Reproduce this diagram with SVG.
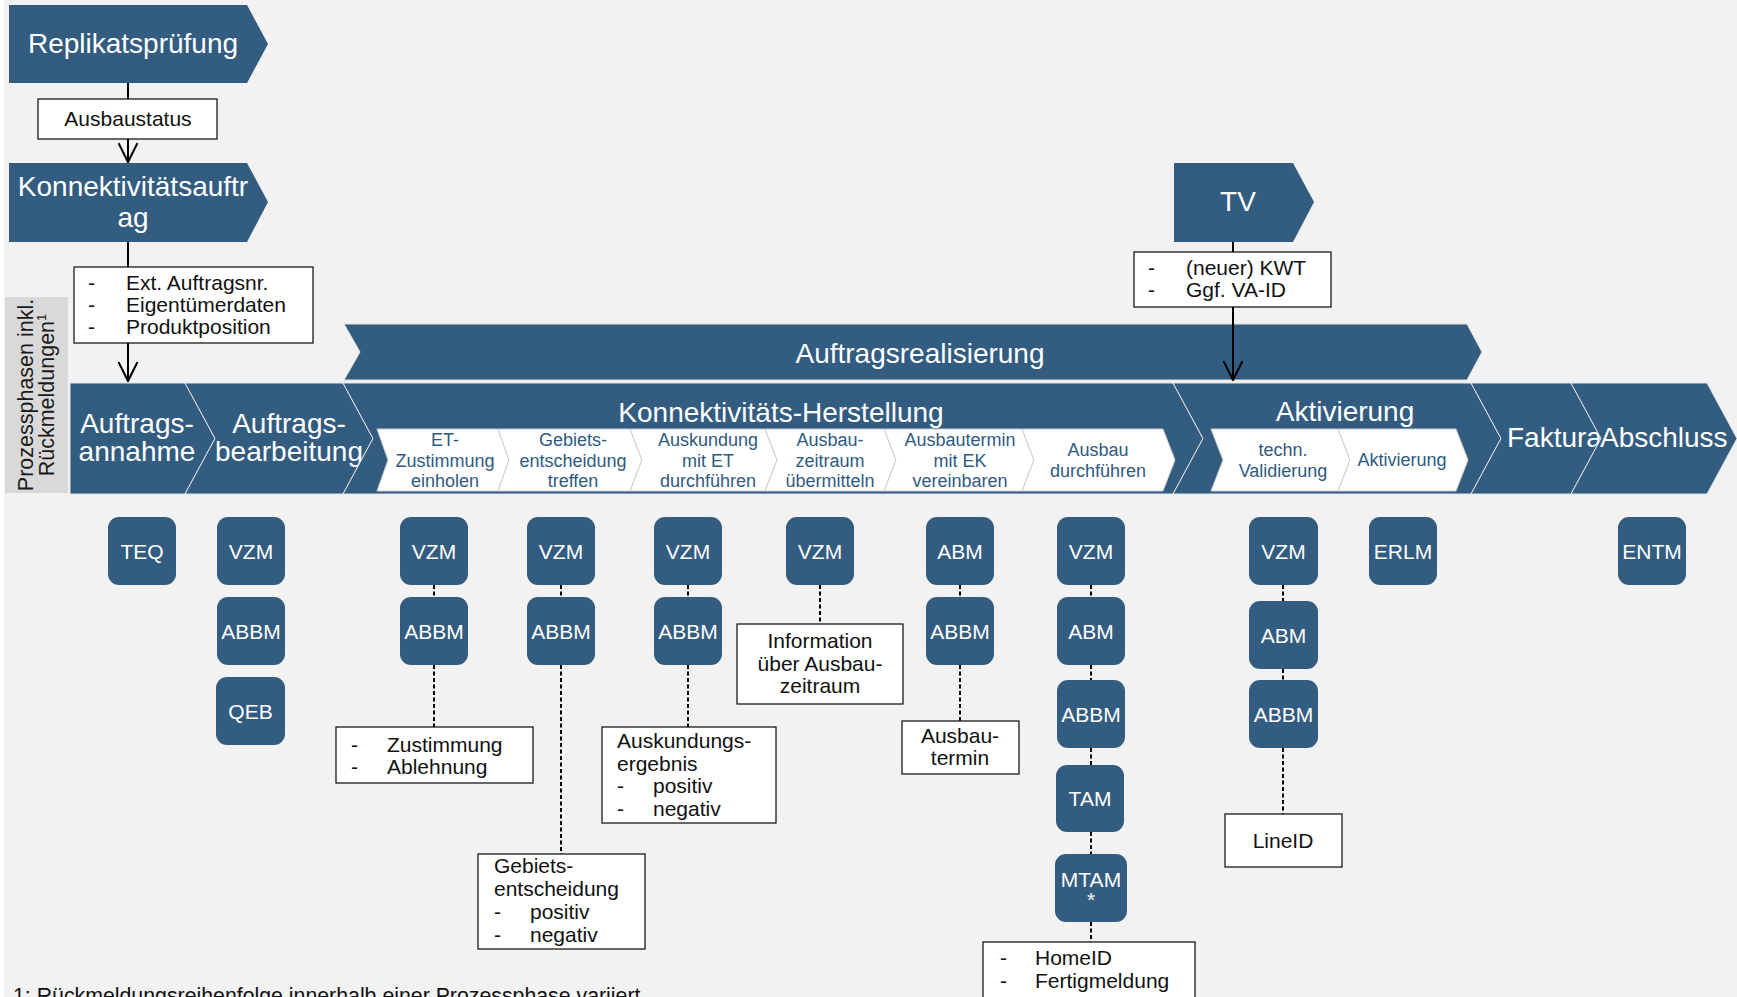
<svg xmlns="http://www.w3.org/2000/svg" width="1737" height="997" viewBox="0 0 1737 997">
<style>
text{font-family:"Liberation Sans",Arial,sans-serif}
.shape{fill:#325c80}
.seg{fill:#325c80;stroke:#e3e3e3;stroke-width:1}
.sub{fill:#ffffff;stroke:#cfcfcf;stroke-width:1}
.big{font-size:28px;fill:#ffffff}
.subt{font-size:18px;fill:#2f5a82;text-anchor:middle}
.node{fill:#325c80}
.nt{font-size:21px;fill:#ffffff;text-anchor:middle}
.box{fill:#ffffff;stroke:#1a1a1a;stroke-width:1.3}
.bt{font-size:21px;fill:#111111}
.c{text-anchor:middle}
.conn{stroke:#000;stroke-width:2;fill:none}
.dash{stroke:#000;stroke-width:2;fill:none;stroke-dasharray:4 2.5}
</style>
<defs>
<marker id="arr" viewBox="0 0 20 20" refX="19" refY="10" markerWidth="21" markerHeight="21" markerUnits="userSpaceOnUse" orient="auto">
<path d="M1,1 L19,10 L1,19" fill="none" stroke="#000" stroke-width="2"/>
</marker>
</defs>
<rect x="0" y="0" width="1737" height="997" fill="#ffffff"/>
<rect x="4" y="0" width="1733" height="997" fill="#f2f2f2"/>

<g id="label-prozessphasen">
<rect x="5" y="297" width="63" height="196" fill="#d9d9d9"/>
<text transform="translate(33,395) rotate(-90)" text-anchor="middle" font-size="21.5" fill="#1a1a1a">Prozessphasen inkl.</text>
<text transform="translate(54,395) rotate(-90)" text-anchor="middle" font-size="21.5" fill="#1a1a1a">Rückmeldungen<tspan font-size="13" dy="-8">1</tspan></text>
</g>

<g id="replikatspruefung">
<polygon class="shape" points="9,5 247,5 268,44 247,83 9,83"/>
<text class="big c" x="133" y="53">Replikatsprüfung</text>
</g>
<g id="ausbaustatus">
<rect class="box" x="38" y="99" width="179" height="40"/>
<text class="bt c" x="128" y="126">Ausbaustatus</text>
</g>
<g id="konnektivitaetsauftrag">
<polygon class="shape" points="9,163 247,163 268,202 247,242 9,242"/>
<text class="big c" x="133" y="196">Konnektivitätsauftr</text>
<text class="big c" x="133" y="227">ag</text>
</g>
<g id="box-ext">
<rect class="box" x="74" y="267" width="239" height="76"/>
<text class="bt" x="88" y="290">-</text><text class="bt" x="126" y="290">Ext. Auftragsnr.</text>
<text class="bt" x="88" y="312">-</text><text class="bt" x="126" y="312">Eigentümerdaten</text>
<text class="bt" x="88" y="334">-</text><text class="bt" x="126" y="334">Produktposition</text>
</g>
<g id="tv">
<polygon class="shape" points="1174,163 1293,163 1314,202 1293,242 1174,242"/>
<text class="big c" x="1238" y="211">TV</text>
</g>
<g id="box-kwt">
<rect class="box" x="1134" y="252" width="197" height="55"/>
<text class="bt" x="1148" y="275">-</text><text class="bt" x="1186" y="275">(neuer) KWT</text>
<text class="bt" x="1148" y="297">-</text><text class="bt" x="1186" y="297">Ggf. VA-ID</text>
</g>

<g id="auftragsrealisierung">
<polygon class="seg" points="344,324 1467,324 1482,352 1467,380 344,380 360,352"/>
<text class="big c" x="920" y="363">Auftragsrealisierung</text>
</g>

<g id="phase-auftragsannahme">
<polygon class="seg" points="70,383 185,383 215,438.5 185,494 70,494"/>
<text class="big c" x="137" y="433">Auftrags-</text>
<text class="big c" x="137" y="461">annahme</text>
</g>
<g id="phase-auftragsbearbeitung">
<polygon class="seg" points="185,383 343,383 373,438.5 343,494 185,494 215,438.5"/>
<text class="big c" x="289" y="433">Auftrags-</text>
<text class="big c" x="289" y="461">bearbeitung</text>
</g>
<g id="phase-konnektivitaet">
<polygon class="seg" points="343,383 1173,383 1203,438.5 1173,494 343,494 373,438.5"/>
<text class="big c" x="781" y="422">Konnektivitäts-Herstellung</text>
</g>
<g id="phase-aktivierung">
<polygon class="seg" points="1173,383 1471,383 1501,438.5 1471,494 1173,494 1203,438.5"/>
<text class="big c" x="1345" y="421">Aktivierung</text>
</g>
<g id="phase-faktura">
<polygon class="seg" points="1471,383 1571,383 1601,438.5 1571,494 1471,494 1501,438.5"/>
<text class="big" x="1507" y="447">Faktura</text>
</g>
<g id="phase-abschluss">
<polygon class="seg" points="1571,383 1707,383 1737,438.5 1707,494 1571,494 1601,438.5"/>
<text class="big" x="1600" y="447">Abschluss</text>
</g>

<g id="step-et">
<polygon class="sub" points="377,429 498,429 509,460 498,491 377,491 388,460"/>
<text class="subt" x="445" y="446">ET-</text><text class="subt" x="445" y="466.5">Zustimmung</text><text class="subt" x="445" y="487">einholen</text>
</g>
<g id="step-gebiet">
<polygon class="sub" points="498,429 630,429 642,460 630,491 498,491 509,460"/>
<text class="subt" x="573" y="446">Gebiets-</text><text class="subt" x="573" y="466.5">entscheidung</text><text class="subt" x="573" y="487">treffen</text>
</g>
<g id="step-auskundung">
<polygon class="sub" points="630,429 765,429 777,460 765,491 630,491 642,460"/>
<text class="subt" x="708" y="446">Auskundung</text><text class="subt" x="708" y="466.5">mit ET</text><text class="subt" x="708" y="487">durchführen</text>
</g>
<g id="step-zeitraum">
<polygon class="sub" points="765,429 884,429 896,460 884,491 765,491 777,460"/>
<text class="subt" x="830" y="446">Ausbau-</text><text class="subt" x="830" y="466.5">zeitraum</text><text class="subt" x="830" y="487">übermitteln</text>
</g>
<g id="step-termin">
<polygon class="sub" points="884,429 1022,429 1034,460 1022,491 884,491 896,460"/>
<text class="subt" x="960" y="446">Ausbautermin</text><text class="subt" x="960" y="466.5">mit EK</text><text class="subt" x="960" y="487">vereinbaren</text>
</g>
<g id="step-ausbau">
<polygon class="sub" points="1022,429 1163,429 1175,460 1163,491 1022,491 1034,460"/>
<text class="subt" x="1098" y="456">Ausbau</text><text class="subt" x="1098" y="477">durchführen</text>
</g>
<g id="step-validierung">
<polygon class="sub" points="1211,429 1338,429 1350,460 1338,491 1211,491 1223,460"/>
<text class="subt" x="1283" y="456">techn.</text><text class="subt" x="1283" y="477">Validierung</text>
</g>
<g id="step-aktivierung">
<polygon class="sub" points="1338,429 1456,429 1468,460 1456,491 1338,491 1350,460"/>
<text class="subt" x="1402" y="466">Aktivierung</text>
</g>

<g id="connectors">
<line class="conn" x1="128" y1="83" x2="128" y2="99"/>
<line class="conn" x1="128" y1="139" x2="128" y2="162" marker-end="url(#arr)"/>
<line class="conn" x1="128" y1="242" x2="128" y2="267"/>
<line class="conn" x1="128" y1="343" x2="128" y2="381" marker-end="url(#arr)"/>
<line class="conn" x1="1233" y1="242" x2="1233" y2="252"/>
<line class="conn" x1="1233" y1="307" x2="1233" y2="380" marker-end="url(#arr)"/>
<line class="dash" x1="434" y1="585" x2="434" y2="597"/>
<line class="dash" x1="434" y1="665" x2="434" y2="727"/>
<line class="dash" x1="561" y1="585" x2="561" y2="597"/>
<line class="dash" x1="561" y1="665" x2="561" y2="854"/>
<line class="dash" x1="688" y1="585" x2="688" y2="597"/>
<line class="dash" x1="688" y1="665" x2="688" y2="727"/>
<line class="dash" x1="820" y1="585" x2="820" y2="624"/>
<line class="dash" x1="960" y1="585" x2="960" y2="597"/>
<line class="dash" x1="960" y1="665" x2="960" y2="721"/>
<line class="dash" x1="1091" y1="585" x2="1091" y2="597"/>
<line class="dash" x1="1091" y1="665" x2="1091" y2="680"/>
<line class="dash" x1="1091" y1="748" x2="1091" y2="765"/>
<line class="dash" x1="1091" y1="832" x2="1091" y2="854"/>
<line class="dash" x1="1091" y1="922" x2="1091" y2="942"/>
<line class="dash" x1="1283" y1="585" x2="1283" y2="601"/>
<line class="dash" x1="1283" y1="669" x2="1283" y2="680"/>
<line class="dash" x1="1283" y1="748" x2="1283" y2="814"/>
</g>

<g id="n-teq"><rect class="node" x="108" y="517" width="68" height="68" rx="11"/><text class="nt" x="142" y="559">TEQ</text></g>
<g id="n-vzm1"><rect class="node" x="217" y="517" width="68" height="68" rx="11"/><text class="nt" x="251" y="559">VZM</text></g>
<g id="n-abbm1"><rect class="node" x="217" y="597" width="68" height="68" rx="11"/><text class="nt" x="251" y="639">ABBM</text></g>
<g id="n-qeb"><rect class="node" x="216" y="677" width="69" height="68" rx="11"/><text class="nt" x="250.5" y="719">QEB</text></g>

<g id="n-vzm2"><rect class="node" x="400" y="517" width="68" height="68" rx="11"/><text class="nt" x="434" y="559">VZM</text></g>
<g id="n-abbm2"><rect class="node" x="400" y="597" width="68" height="68" rx="11"/><text class="nt" x="434" y="639">ABBM</text></g>
<g id="b-zustimmung">
<rect class="box" x="336" y="727" width="197" height="56"/>
<text class="bt" x="351" y="752">-</text><text class="bt" x="387" y="752">Zustimmung</text>
<text class="bt" x="351" y="774">-</text><text class="bt" x="387" y="774">Ablehnung</text>
</g>

<g id="n-vzm3"><rect class="node" x="527" y="517" width="68" height="68" rx="11"/><text class="nt" x="561" y="559">VZM</text></g>
<g id="n-abbm3"><rect class="node" x="527" y="597" width="68" height="68" rx="11"/><text class="nt" x="561" y="639">ABBM</text></g>
<g id="b-gebiet">
<rect class="box" x="478" y="854" width="167" height="95"/>
<text class="bt" x="494" y="873">Gebiets-</text>
<text class="bt" x="494" y="896">entscheidung</text>
<text class="bt" x="494" y="919">-</text><text class="bt" x="530" y="919">positiv</text>
<text class="bt" x="494" y="942">-</text><text class="bt" x="530" y="942">negativ</text>
</g>

<g id="n-vzm4"><rect class="node" x="654" y="517" width="68" height="68" rx="11"/><text class="nt" x="688" y="559">VZM</text></g>
<g id="n-abbm4"><rect class="node" x="654" y="597" width="68" height="68" rx="11"/><text class="nt" x="688" y="639">ABBM</text></g>
<g id="b-auskundung">
<rect class="box" x="602" y="727" width="174" height="96"/>
<text class="bt" x="617" y="748">Auskundungs-</text>
<text class="bt" x="617" y="771">ergebnis</text>
<text class="bt" x="617" y="793">-</text><text class="bt" x="653" y="793">positiv</text>
<text class="bt" x="617" y="816">-</text><text class="bt" x="653" y="816">negativ</text>
</g>

<g id="n-vzm5"><rect class="node" x="786" y="517" width="68" height="68" rx="11"/><text class="nt" x="820" y="559">VZM</text></g>
<g id="b-information">
<rect class="box" x="737" y="624" width="166" height="80"/>
<text class="bt c" x="820" y="648">Information</text>
<text class="bt c" x="820" y="671">über Ausbau-</text>
<text class="bt c" x="820" y="693">zeitraum</text>
</g>

<g id="n-abm6"><rect class="node" x="926" y="517" width="68" height="68" rx="11"/><text class="nt" x="960" y="559">ABM</text></g>
<g id="n-abbm6"><rect class="node" x="926" y="597" width="68" height="68" rx="11"/><text class="nt" x="960" y="639">ABBM</text></g>
<g id="b-ausbautermin">
<rect class="box" x="902" y="721" width="117" height="53"/>
<text class="bt c" x="960" y="743">Ausbau-</text>
<text class="bt c" x="960" y="765">termin</text>
</g>

<g id="n-vzm7"><rect class="node" x="1057" y="517" width="68" height="68" rx="11"/><text class="nt" x="1091" y="559">VZM</text></g>
<g id="n-abm7"><rect class="node" x="1057" y="597" width="68" height="68" rx="11"/><text class="nt" x="1091" y="639">ABM</text></g>
<g id="n-abbm7"><rect class="node" x="1057" y="680" width="68" height="68" rx="11"/><text class="nt" x="1091" y="722">ABBM</text></g>
<g id="n-tam7"><rect class="node" x="1056" y="765" width="68" height="67" rx="11"/><text class="nt" x="1090" y="806">TAM</text></g>
<g id="n-mtam7"><rect class="node" x="1055" y="854" width="72" height="68" rx="11"/><text class="nt" x="1091" y="887">MTAM</text><text class="nt" x="1091" y="907">*</text></g>
<g id="b-homeid">
<rect class="box" x="983" y="942" width="212" height="70"/>
<text class="bt" x="1000" y="965">-</text><text class="bt" x="1035" y="965">HomeID</text>
<text class="bt" x="1000" y="988">-</text><text class="bt" x="1035" y="988">Fertigmeldung</text>
</g>

<g id="n-vzm8"><rect class="node" x="1249" y="517" width="69" height="68" rx="11"/><text class="nt" x="1283.5" y="559">VZM</text></g>
<g id="n-abm8"><rect class="node" x="1249" y="601" width="69" height="68" rx="11"/><text class="nt" x="1283.5" y="643">ABM</text></g>
<g id="n-abbm8"><rect class="node" x="1249" y="680" width="69" height="68" rx="11"/><text class="nt" x="1283.5" y="722">ABBM</text></g>
<g id="b-lineid">
<rect class="box" x="1225" y="814" width="117" height="53"/>
<text class="bt c" x="1283" y="848">LineID</text>
</g>

<g id="n-erlm"><rect class="node" x="1369" y="517" width="68" height="68" rx="11"/><text class="nt" x="1403" y="559">ERLM</text></g>
<g id="n-entm"><rect class="node" x="1618" y="517" width="68" height="68" rx="11"/><text class="nt" x="1652" y="559">ENTM</text></g>

<text x="13" y="1003" font-size="21.3" fill="#111111">1: Rückmeldungsreihenfolge innerhalb einer Prozessphase variiert</text>
</svg>
